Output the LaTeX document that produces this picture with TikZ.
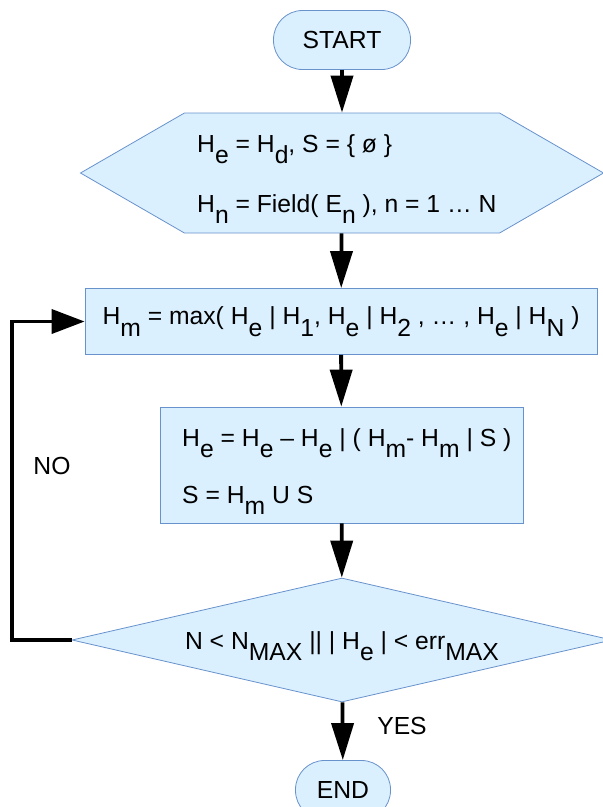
\documentclass[tikz,border=0pt]{standalone}
\usepackage{fontspec}
\setmainfont{Liberation Sans}
\usetikzlibrary{arrows.meta,shapes.geometric,shapes.symbols}

\definecolor{boxfill}{RGB}{218,240,254}
\definecolor{boxline}{RGB}{104,146,204}
% lowered index, same size as the text
\newcommand{\lo}[1]{\raisebox{-0.46em}{#1}}

\begin{document}
\begin{tikzpicture}[x=1pt,y=-1pt,
  every node/.style={font=\fontsize{24.7}{29}\selectfont, inner sep=0pt},
  blockbox/.style={draw=boxline, fill=boxfill, line width=0.8pt},
  flow/.style={line width=3.8pt, -{Triangle[length=37pt,width=22pt]}},
  back/.style={line width=3.8pt, -{Triangle[length=33pt,width=24pt]}}]
\useasboundingbox (0,0) rectangle (603,807);
% boxes
\node[blockbox, rounded corners=29pt, minimum width=137pt, minimum height=59pt] (start) at (342,40) {START};
\node[blockbox, signal, signal to=west and east, signal pointer angle=60, minimum width=523pt, minimum height=120pt] (init) at (342,173) {};
\node[anchor=base west] (initA) at (197,152) {H\lo{e} = H\lo{d}, S = \{ ø \}};
\node[anchor=base west] (initB) at (197,212) {H\lo{n} = Field( E\lo{n} ), n = 1 … N};
\node[blockbox, minimum width=512pt, minimum height=66pt] (maxbox) at (341,321.5) {H\lo{m} = max( H\lo{e} | H\lo{1}, H\lo{e} | H\lo{2} , … , H\lo{e} | H\lo{N} )};
\node[blockbox, minimum width=363pt, minimum height=116pt] (update) at (341.5,465) {};
\node[anchor=base west] (updA) at (182,446) {H\lo{e} = H\lo{e} – H\lo{e} | ( H\lo{m}- H\lo{m} | S )};
\node[anchor=base west] (updB) at (182,503) {S = H\lo{m} U S};
\node[blockbox, diamond, aspect=4.35, minimum width=540pt, minimum height=124pt, text height=30pt, text depth=11pt] (test) at (342,640) {N < N\lo{MAX} || | H\lo{e} | < err\lo{MAX}};
\node[blockbox, rounded corners=29pt, minimum width=95pt, minimum height=59pt] (stop) at (343,790) {END};
% labels
\node (no) at (52,466) {NO};
\node (yes) at (402,726) {YES};
% arrows
\draw[flow] (start) -- (init);
\draw[flow] (init) -- (maxbox);
\draw[flow] (maxbox) -- (update);
\draw[flow] (update) -- (test);
\draw[flow] (test) -- (stop);
\draw[back] (test.west) -- ++(-60,0) |- (maxbox.west);
\end{tikzpicture}
\end{document}
